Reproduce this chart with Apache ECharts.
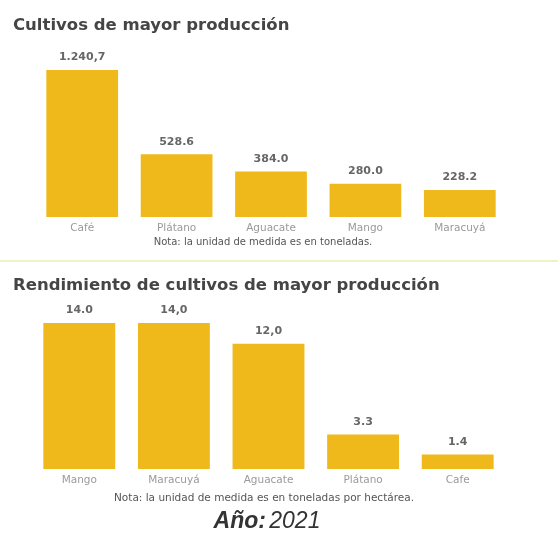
<!DOCTYPE html>
<html>
<head>
<meta charset="utf-8">
<script src="https://cdn.jsdelivr.net/npm/echarts@6/dist/echarts.min.js"></script>
<style>
  html, body { margin: 0; padding: 0; background: #fff; }
  #main { width: 558px; height: 534px; }
</style>
</head>
<body>
<div id="main"></div>
<script>
// datos - produccion (toneladas)
var prodCultivos = ['Café', 'Plátano', 'Aguacate', 'Mango', 'Maracuyá'];
var prodValores = [1240.7, 528.6, 384.0, 280.0, 228.2];
var prodEtiquetas = ['1.240,7', '528.6', '384.0', '280.0', '228.2'];

// datos - rendimiento (toneladas por hectarea)
var rendCultivos = ['Mango', 'Maracuyá', 'Aguacate', 'Plátano', 'Cafe'];
var rendValores = [14.0, 14.0, 12.0, 3.3, 1.4];
var rendEtiquetas = ['14.0', '14,0', '12,0', '3.3', '1.4'];

var amarillo = '#f0b91b';
var fuente = 'DejaVu Sans';

var myChart = echarts.init(document.getElementById('main'));

function ejeX(idx, cats) {
    return {
        type: 'category',
        gridIndex: idx,
        data: cats,
        axisLine: { show: false },
        axisTick: { show: false },
        axisLabel: { color: '#9a9a9a', fontSize: 10.5, fontFamily: fuente, margin: 6 }
    };
}

function ejeY(idx) {
    return {
        type: 'value',
        gridIndex: idx,
        min: 0,
        max: 'dataMax',
        show: false,
        splitLine: { show: false }
    };
}

function serie(idx, vals, etiquetas) {
    return {
        type: 'bar',
        xAxisIndex: idx,
        yAxisIndex: idx,
        data: vals,
        barCategoryGap: '24%',
        itemStyle: { color: amarillo },
        label: {
            show: true,
            position: 'top',
            distance: 7,
            color: '#666',
            fontSize: 11,
            fontWeight: 'bold',
            fontFamily: fuente,
            formatter: function(p) { return etiquetas[p.dataIndex]; }
        }
    };
}

var option = {
    animation: false,
    backgroundColor: '#fff',
    title: [{
        text: 'Cultivos de mayor producción',
        left: 8, top: 12,
        textStyle: { fontSize: 16.5, fontWeight: 'bold', color: '#454545', fontFamily: fuente }
    }, {
        text: 'Rendimiento de cultivos de mayor producción',
        left: 8, top: 272,
        textStyle: { fontSize: 16.5, fontWeight: 'bold', color: '#454545', fontFamily: fuente }
    }],
    grid: [
        { left: 35, width: 472, top: 70, height: 147 },
        { left: 32, width: 473, top: 323, height: 146 }
    ],
    xAxis: [ejeX(0, prodCultivos), ejeX(1, rendCultivos)],
    yAxis: [ejeY(0), ejeY(1)],
    series: [serie(0, prodValores, prodEtiquetas), serie(1, rendValores, rendEtiquetas)],
    graphic: [{
        type: 'text',
        x: 263, y: 242,
        style: {
            text: 'Nota: la unidad de medida es en toneladas.',
            fill: '#555', font: '10px "DejaVu Sans"',
            align: 'center', verticalAlign: 'middle'
        }
    }, {
        type: 'line',
        shape: { x1: 0, y1: 261, x2: 558, y2: 261 },
        style: { stroke: '#eef3c6', lineWidth: 2 }
    }, {
        type: 'text',
        x: 264, y: 498,
        style: {
            text: 'Nota: la unidad de medida es en toneladas por hectárea.',
            fill: '#555', font: '10.5px "DejaVu Sans"',
            align: 'center', verticalAlign: 'middle'
        }
    }, {
        type: 'text',
        x: 267, y: 522,
        style: {
            text: '{b|Año:} {n|2021}',
            align: 'center', verticalAlign: 'middle',
            rich: {
                b: { fontSize: 23, fontStyle: 'italic', fontWeight: 'bold', fill: '#333', fontFamily: 'Liberation Sans' },
                n: { fontSize: 23, fontStyle: 'italic', fill: '#333', fontFamily: 'Liberation Sans' }
            }
        }
    }]
};

myChart.setOption(option);
</script>
</body>
</html>
